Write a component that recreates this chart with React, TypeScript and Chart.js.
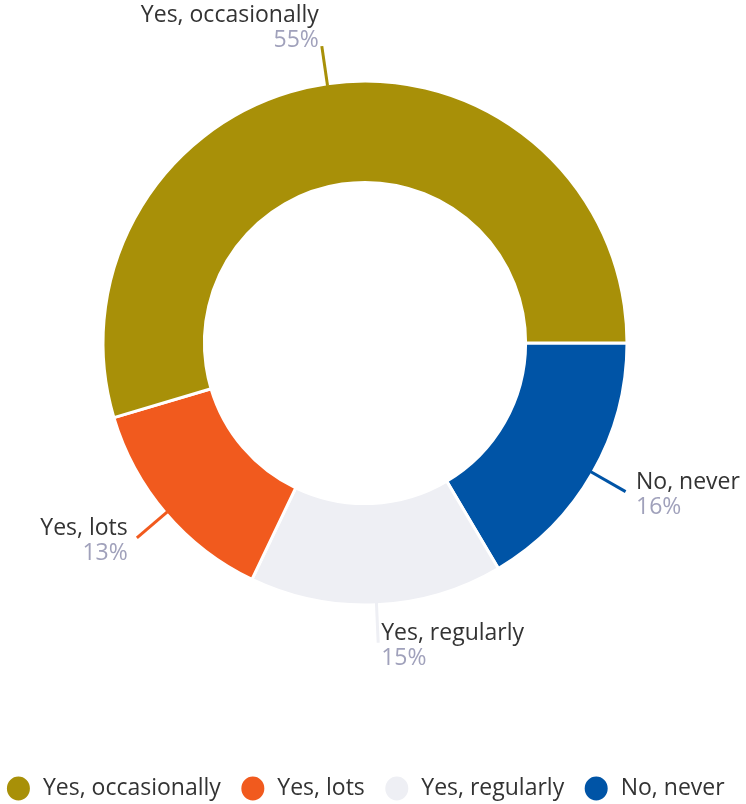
import React, { useEffect, useRef } from "react";
import { Chart, registerables } from "chart.js";

Chart.register(...registerables);

const categories = ["Yes, occasionally", "Yes, lots", "Yes, regularly", "No, never"];
const values = [54.6, 13.3, 15.6, 16.5];
const percentLabels = ["55%", "13%", "15%", "16%"];
const colors = ["#a89008", "#f15a1e", "#eeeff4", "#0054a6"];

const FONT = "'Open Sans', sans-serif";
const FONT_SIZE = 23;

// drawn counter-clockwise in the reference: reverse for Chart.js (clockwise)
const chartLabels = [...categories].reverse();
const chartValues = [...values].reverse();
const chartPercents = [...percentLabels].reverse();
const chartColors = [...colors].reverse();

const CANVAS_W = 770;
const CANVAS_H = 810;
const SHIFT_X = -20;

const outerLabels = {
  id: "outerLabels",
  afterDatasetsDraw(chart: any) {
    const meta = chart.getDatasetMeta(0);
    const ctx = chart.ctx;
    const labels = chart.data.labels;
    const ds = chart.data.datasets[0];
    meta.data.forEach((arc: any, i: number) => {
      const { x, y, startAngle, endAngle, outerRadius } = arc.getProps(
        ["x", "y", "startAngle", "endAngle", "outerRadius"],
        true
      );
      const mid = (startAngle + endAngle) / 2;
      const c = Math.cos(mid);
      const s = Math.sin(mid);
      const r0 = outerRadius - 2;
      const r1 = outerRadius + 38;
      const sx = x + c * r0;
      const sy = y + s * r0;
      const ex = x + c * r1;
      const ey = y + s * r1;
      ctx.save();
      ctx.strokeStyle = ds.backgroundColor[i];
      ctx.lineWidth = 3;
      ctx.beginPath();
      ctx.moveTo(sx, sy);
      ctx.lineTo(ex, ey);
      ctx.stroke();

      const right = c < 0;
      ctx.textAlign = right ? "right" : "left";
      ctx.textBaseline = "alphabetic";
      const tx = ex + (right ? -1 : 1) * Math.max(3, Math.abs(c) * 12);
      let nameY: number;
      let pctY: number;
      if (s < -0.9) {
        pctY = ey + 1;
        nameY = pctY - 25;
      } else {
        nameY = ey - 3;
        pctY = nameY + 25;
      }
      ctx.font = `${FONT_SIZE}px ${FONT}`;
      ctx.fillStyle = "#333333";
      ctx.fillText(labels[i], tx, nameY);
      ctx.fillStyle = "#a0a1bb";
      ctx.fillText(chartPercents[i], tx, pctY);
      ctx.restore();
    });
  },
};

export default function App() {
  const ref = useRef<HTMLCanvasElement | null>(null);

  useEffect(() => {
    if (!ref.current) return;
    const chart = new Chart(ref.current, {
      type: "doughnut",
      data: {
        labels: chartLabels,
        datasets: [
          {
            data: chartValues,
            backgroundColor: chartColors,
            borderColor: "#ffffff",
            borderWidth: 3,
            hoverOffset: 0,
          },
        ],
      },
      options: {
        responsive: false,
        animation: false,
        rotation: 90,
        radius: 262,
        cutout: "61.3%",
        layout: { padding: { left: 0, right: 0, top: 0, bottom: 0 } },
        plugins: {
          legend: {
            position: "bottom",
            reverse: true,
            title: {
              display: true,
              text: " ",
              padding: { top: 62, bottom: 0 },
              font: { size: 10, lineHeight: 1 },
            },
            labels: {
              usePointStyle: true,
              pointStyle: "circle",
              boxHeight: 19,
              pointStyleWidth: 26,
              padding: 19,
              color: "#333333",
              font: { size: FONT_SIZE, family: FONT },
            },
          },
          tooltip: { enabled: false },
        },
      },
      plugins: [outerLabels],
    } as any);
    return () => chart.destroy();
  }, []);

  return (
    <div
      style={{
        position: "fixed",
        left: 0,
        top: 0,
        width: 746,
        height: 804,
        overflow: "hidden",
        background: "#ffffff",
      }}
    >
      <canvas
        ref={ref}
        width={CANVAS_W}
        height={CANVAS_H}
        style={{ display: "block", width: CANVAS_W, height: CANVAS_H, marginLeft: SHIFT_X }}
      />
    </div>
  );
}
